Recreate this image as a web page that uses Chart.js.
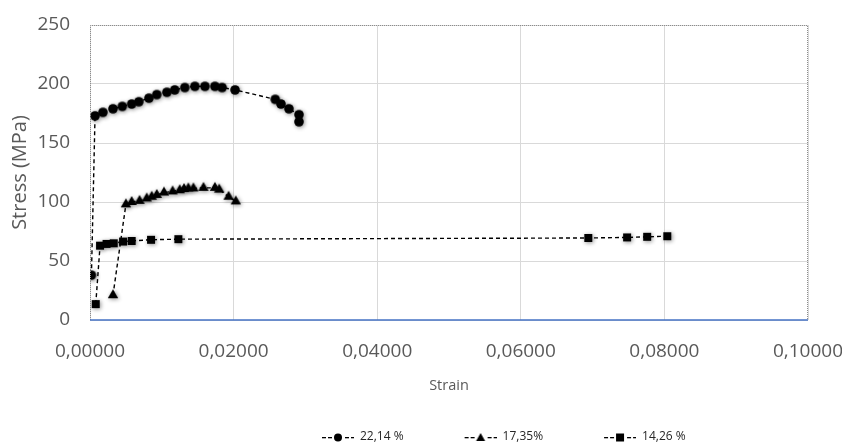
<!DOCTYPE html>
<html>
<head>
<meta charset="utf-8">
<script src="https://cdn.jsdelivr.net/npm/chart.js@4"></script>
<style>
  html, body { margin: 0; padding: 0; background: #fff; }
  #wrap { width: 842px; height: 448px; }
</style>
</head>
<body>
<div id="wrap"><canvas id="chart"></canvas></div>
<script>
// --- Data ---
const seriesNames = ['22,14 %', '17,35%', '14,26 %'];

const strainA = [0.0002, 0.0007, 0.0018, 0.0032, 0.0045, 0.0058, 0.0068, 0.0082, 0.0093, 0.0107, 0.0118,
                 0.0132, 0.0146, 0.0160, 0.0174, 0.0184, 0.0202, 0.0258, 0.0266, 0.0277, 0.0291, 0.0291];
const stressA = [38, 173, 176, 179, 181, 183, 185, 188, 191, 193, 195,
                 197, 198, 198, 198, 197, 195, 187, 183, 179, 174, 168];

const strainB = [0.0032, 0.0050, 0.0058, 0.0069, 0.0079, 0.0086, 0.0093, 0.0103, 0.0115,
                 0.0125, 0.0131, 0.0137, 0.0144, 0.0158, 0.0174, 0.0180, 0.0193, 0.0203];
const stressB = [21, 98, 100, 101, 103, 104.5, 106, 108, 109,
                 110, 111, 111.5, 111.5, 112, 112, 110.5, 104.5, 100.5];

const strainC = [0.0008, 0.0014, 0.0023, 0.0033, 0.0046, 0.0058, 0.0085, 0.0123, 0.0694, 0.0748, 0.0776, 0.0804];
const stressC = [13.5, 63, 64.5, 65, 66.5, 67, 68, 68.5, 69.5, 70, 70.5, 71];

const xTicks = [0, 0.02, 0.04, 0.06, 0.08, 0.10];
const yTicks = [0, 50, 100, 150, 200, 250];

// --- Helpers ---
const ICON_W = 83;

function toPoints(xs, ys) {
    return xs.map((x, i) => ({ x: x, y: ys[i] }));
}

// marker sprite with a soft shadow (Excel style)
function markerImage(shape) {
    const c = document.createElement('canvas');
    c.width = 20; c.height = 20;
    const g = c.getContext('2d');
    g.shadowColor = 'rgba(0,0,0,0.45)';
    g.shadowBlur = 4;
    g.shadowOffsetX = 1;
    g.shadowOffsetY = 1;
    g.fillStyle = '#000';
    g.beginPath();
    if (shape === 'circle') {
        g.arc(10, 10, 4.8, 0, Math.PI * 2);
    } else if (shape === 'triangle') {
        g.moveTo(10, 4); g.lineTo(15.2, 13); g.lineTo(4.8, 13); g.closePath();
    } else {
        g.rect(6, 6, 8, 8);
    }
    g.fill();
    return c;
}

// legend icon "- - marker - -", drawn at the right end of a wider box
function legendIcon(shape) {
    const c = document.createElement('canvas');
    c.width = ICON_W; c.height = 12;
    const g = c.getContext('2d');
    const o = ICON_W - 32;
    g.fillStyle = '#000';
    [0, 6, 23, 29].forEach(x => g.fillRect(o + x, 6, 4, 1.3));
    g.beginPath();
    if (shape === 'circle') {
        g.arc(o + 16, 6.5, 4, 0, Math.PI * 2);
    } else if (shape === 'triangle') {
        g.moveTo(o + 16, 2); g.lineTo(o + 20.5, 10); g.lineTo(o + 11.5, 10); g.closePath();
    } else {
        g.rect(o + 12, 2.5, 8, 8);
    }
    g.fill();
    return c;
}

const plotFrame = {
    id: 'plotFrame',
    afterLayout(chart) {
        // move the legend row to the right like in the original
        if (chart.legend) {
            chart.legend.left += 261;
            chart.legend.right += 261;
        }
    },
    afterDraw(chart) {
        const a = chart.chartArea, ctx = chart.ctx;
        ctx.save();
        ctx.strokeStyle = '#8c8c8c';
        ctx.lineWidth = 1;
        ctx.setLineDash([1, 1]);
        ctx.beginPath();
        ctx.moveTo(a.left + 0.5, a.bottom);
        ctx.lineTo(a.left + 0.5, a.top + 0.5);
        ctx.lineTo(a.right - 0.5, a.top + 0.5);
        ctx.lineTo(a.right - 0.5, a.bottom);
        ctx.stroke();
        ctx.setLineDash([]);
        ctx.strokeStyle = '#4472c4';
        ctx.lineWidth = 1.5;
        ctx.beginPath();
        ctx.moveTo(a.left, a.bottom);
        ctx.lineTo(a.right, a.bottom);
        ctx.stroke();
        ctx.restore();
    }
};

const icons = [legendIcon('circle'), legendIcon('triangle'), legendIcon('rect')];

function makeSet(label, xs, ys, shape) {
    return {
        label: label,
        data: toPoints(xs, ys),
        showLine: true,
        borderColor: '#000',
        backgroundColor: '#000',
        borderWidth: 1.4,
        borderDash: [4, 3],
        pointStyle: markerImage(shape),
        pointRadius: 5,
        pointBorderWidth: 0,
        tension: 0
    };
}

Chart.defaults.font.family = '"Open Sans", "Noto Sans", sans-serif';
Chart.defaults.color = '#595959';

new Chart(document.getElementById('chart'), {
    type: 'scatter',
    data: {
        datasets: [
            makeSet(seriesNames[0], strainA, stressA, 'circle'),
            makeSet(seriesNames[1], strainB, stressB, 'triangle'),
            makeSet(seriesNames[2], strainC, stressC, 'rect')
        ]
    },
    options: {
        responsive: true,
        maintainAspectRatio: false,
        animation: false,
        layout: { padding: { left: 0, right: 34, top: 25, bottom: -5 } },
        scales: {
            x: {
                type: 'linear',
                min: 0, max: 0.1,
                afterBuildTicks: s => { s.ticks = xTicks.map(v => ({ value: v })); },
                afterFit: s => { s.height = 101; s.paddingLeft = 0; s.paddingRight = 0; },
                ticks: {
                    font: { size: 19 },
                    padding: 20,
                    maxRotation: 0,
                    callback: v => v.toFixed(5).replace('.', ',')
                },
                grid: { color: '#d9d9d9', drawTicks: false },
                border: { display: false },
                title: { display: true, text: 'Strain', font: { size: 14.5 }, padding: { top: 0, bottom: 26 } }
            },
            y: {
                type: 'linear',
                min: 0, max: 250,
                afterBuildTicks: s => { s.ticks = yTicks.map(v => ({ value: v })); },
                afterFit: s => { s.width = 90; s.paddingTop = 0; s.paddingBottom = 0; },
                ticks: { font: { size: 19 }, padding: 20 },
                grid: { color: '#d9d9d9', drawTicks: false },
                border: { display: false },
                title: { display: true, text: 'Stress (MPa)', font: { size: 20 }, padding: { top: 8, bottom: 0 } }
            }
        },
        plugins: {
            tooltip: { enabled: false },
            legend: {
                position: 'bottom',
                align: 'start',
                labels: {
                    usePointStyle: true,
                    pointStyleWidth: ICON_W,
                    padding: 10,
                    color: '#262626',
                    font: { size: 12 },
                    generateLabels: chart => Chart.defaults.plugins.legend.labels.generateLabels(chart)
                        .map((l, i) => Object.assign(l, { pointStyle: icons[i] }))
                }
            }
        }
    },
    plugins: [plotFrame]
});
</script>
</body>
</html>
